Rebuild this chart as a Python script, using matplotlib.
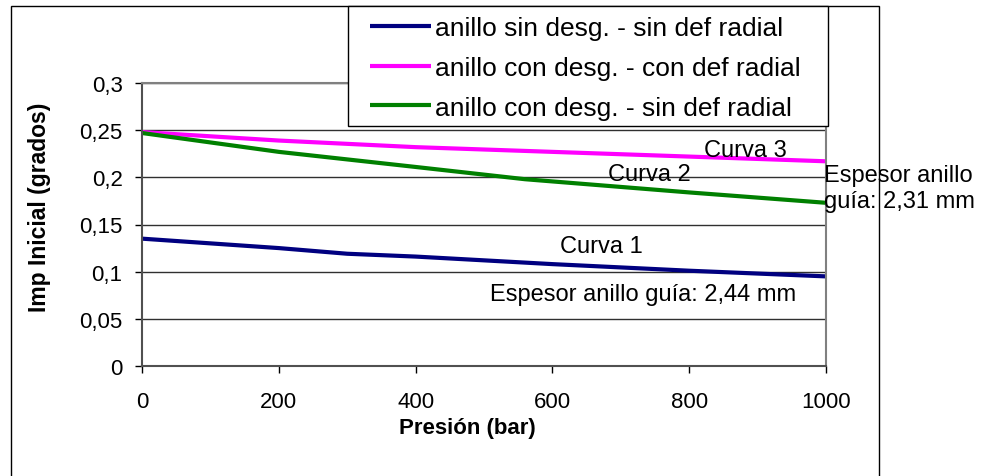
import matplotlib.pyplot as plt
import matplotlib.patches as patches

plt.rcParams['font.family'] = ['Liberation Sans', 'DejaVu Sans']

# presión (bar) vs imp inicial (grados)
p_c1 = [0, 200, 300, 400, 600, 800, 1000]
imp_c1 = [0.135, 0.125, 0.119, 0.116, 0.108, 0.101, 0.095]

p_c3 = [0, 200, 400, 600, 800, 1000]
imp_c3 = [0.248, 0.239, 0.232, 0.227, 0.222, 0.217]

p_c2 = [0, 200, 400, 560, 800, 1000]
imp_c2 = [0.247, 0.227, 0.211, 0.198, 0.184, 0.173]

labels = ['anillo sin desg. - sin def radial',
          'anillo con desg. - con def radial',
          'anillo con desg. - sin def radial']

xticks = [0, 200, 400, 600, 800, 1000]
yticks = [0, 0.05, 0.1, 0.15, 0.2, 0.25, 0.3]
ytick_labels = ['0', '0,05', '0,1', '0,15', '0,2', '0,25', '0,3']

W, H = 984, 477
fig = plt.figure(figsize=(W / 100, H / 100), dpi=100)
ax = fig.add_axes([142 / W, 1 - 367 / H, 684 / W, 283 / H])

# outer chart border
fig.patches.append(patches.Rectangle((11 / W, -0.05), 868 / W, 1.05 - 7 / H,
                                     transform=fig.transFigure, fill=False,
                                     edgecolor='black', linewidth=1))

l1, = ax.plot(p_c1, imp_c1, color='#000080', lw=3, solid_capstyle='butt')
l3, = ax.plot(p_c3, imp_c3, color='#ff00ff', lw=3, solid_capstyle='butt')
l2, = ax.plot(p_c2, imp_c2, color='#008000', lw=3, solid_capstyle='butt')

ax.set_xlim(0, 1000)
ax.set_ylim(0, 0.3)
ax.set_xticks(xticks)
ax.set_yticks(yticks)
ax.set_yticklabels(ytick_labels)
ax.tick_params(direction='out', length=5, width=1, labelsize=16,
               colors='black')
ax.tick_params(axis='x', pad=13)
ax.tick_params(axis='y', pad=9)
ax.grid(axis='y', color='#303030', linewidth=1)
ax.set_axisbelow(True)
for side in ['top', 'right']:
    ax.spines[side].set_color('#808080')
    ax.spines[side].set_linewidth(1.5)
for side in ['left', 'bottom']:
    ax.spines[side].set_color('#505050')
    ax.spines[side].set_linewidth(1.5)

fig.text(40 / W, 1 - 207 / H, 'Imp Inicial (grados)', rotation=90,
         fontsize=16.5, fontweight='bold', ha='center', va='center')
fig.text(467 / W, 1 - 429 / H, 'Presión (bar)', fontsize=16,
         fontweight='bold', ha='center', va='center')

ax.text(882, 0.229, 'Curva 3', fontsize=17, ha='center', va='center')
ax.text(742, 0.2035, 'Curva 2', fontsize=17, ha='center', va='center')
ax.text(672, 0.127, 'Curva 1', fontsize=17, ha='center', va='center')
ax.text(733, 0.0763, 'Espesor anillo guía: 2,44 mm', fontsize=17,
        ha='center', va='center')
ax.text(997, 0.189, 'Espesor anillo\nguía: 2,31 mm', fontsize=17, ha='left',
        va='center', linespacing=1.25, clip_on=False)

# legend box with a light shadow, drawn as figure patches
fig.patches.append(patches.Rectangle((349 / W, 1 - 128 / H), 480 / W, 120 / H,
                                     transform=fig.transFigure,
                                     facecolor='#808080', edgecolor='none',
                                     zorder=2))
fig.patches.append(patches.Rectangle((348 / W, 1 - 127 / H), 480 / W, 120 / H,
                                     transform=fig.transFigure,
                                     facecolor='white', edgecolor='black',
                                     linewidth=1, zorder=3))
leg = fig.legend([l1, l3, l2], labels, loc='upper left',
                 bbox_to_anchor=(370 / W, 1 - 17 / H), fontsize=19,
                 handlelength=2.3, handletextpad=0.15, labelspacing=0.6,
                 borderpad=0, borderaxespad=0, frameon=False)
leg.set_zorder(4)

fig.savefig('out.png', dpi=100)
